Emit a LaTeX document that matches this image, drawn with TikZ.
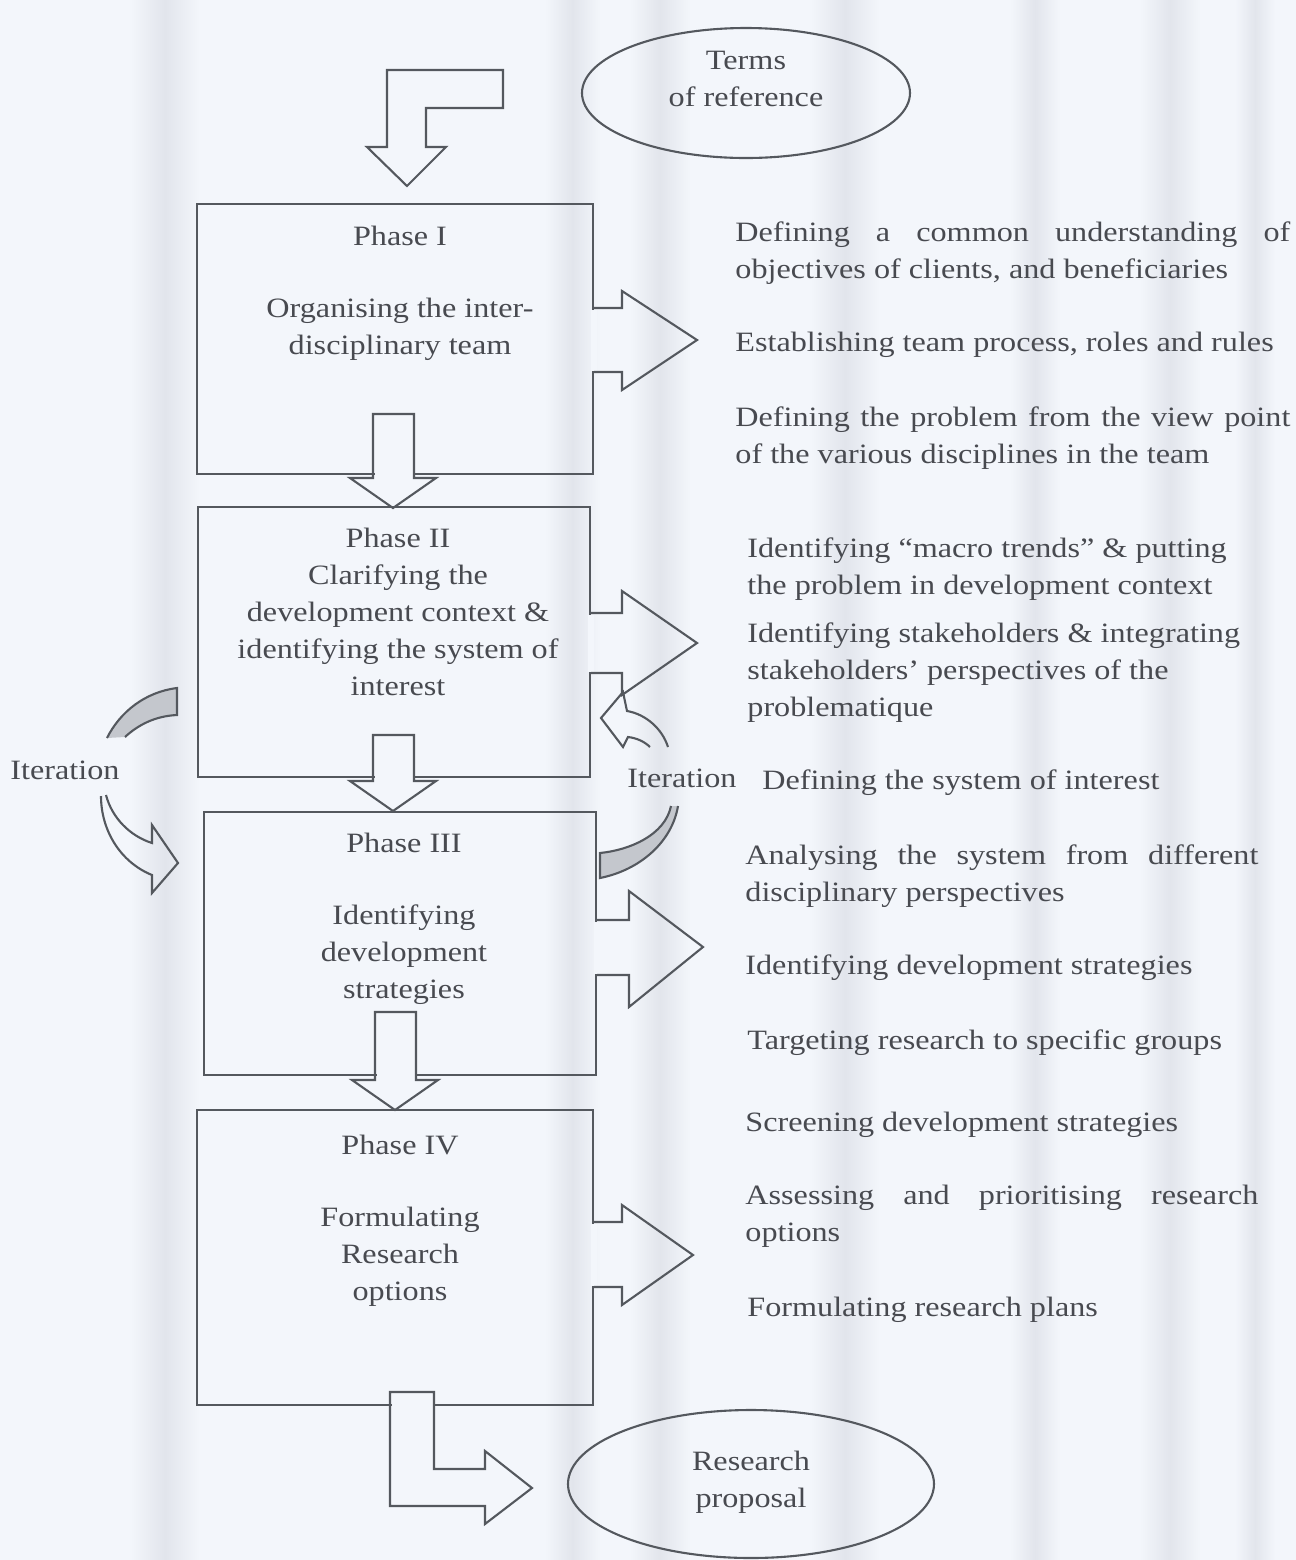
\documentclass[tikz,border=0pt]{standalone}
\usepackage{fontspec}
\setmainfont{Liberation Serif}[FakeStretch=1.15]
\usetikzlibrary{shapes.geometric}
\definecolor{bg}{RGB}{243,246,251}
\definecolor{stripe}{RGB}{226,229,236}
\definecolor{ink}{RGB}{84,88,94}
\definecolor{txt}{RGB}{72,74,80}
\definecolor{tailgray}{RGB}{196,199,205}
\begin{document}
\begin{tikzpicture}[x=0.5pt,y=-0.5pt,
  outline/.style={draw=ink,line width=1.05pt,line join=miter},
  phasebox/.style={draw=ink,line width=1.05pt,rectangle,inner sep=0pt},
  oval/.style={draw=ink,line width=1.05pt,ellipse,inner sep=0pt},
  label/.style={text=txt,font=\fontsize{14}{18.5}\selectfont,inner sep=0pt},
  erase/.style={fill=bg,draw=none}]

% page and soft vertical stripes
\fill[bg] (0,0) rectangle (1296,1560);
\useasboundingbox (0,0) rectangle (1296,1560);
\foreach \a/\b in {130/200,545/600,630/690,810/880,1010/1060,1140/1200,1235/1275}
  \shade[left color=bg,right color=bg,middle color=stripe] (\a,0) rectangle (\b,1560);

% terminals
\node[oval,minimum width=164pt,minimum height=65pt] (tor) at (746,93) {};
\node[label,align=center] (tortext) at (746,79) {Terms\\of reference};
\node[oval,minimum width=183pt,minimum height=74pt] (rp) at (751,1484) {};
\node[label,align=center] (rptext) at (751,1482) {Research\\proposal};

% phase boxes
\node[phasebox,minimum width=198pt,minimum height=135pt] (p1) at (395,339) {};
\node[phasebox,minimum width=196pt,minimum height=135pt] (p2) at (394,642) {};
\node[phasebox,minimum width=196pt,minimum height=131.5pt] (p3) at (400,943.5) {};
\node[phasebox,minimum width=198pt,minimum height=147.5pt] (p4) at (395,1257.5) {};

% phase texts
\node[label] (p1t) at (400,236) {Phase I};
\node[label,align=center] (p1d) at (400,329) {Organising the inter-\\disciplinary team};
\node[label,align=center] (p2d) at (398,612) {Phase II\\Clarifying the\\development context \&\\identifying the system of\\interest};
\node[label] (p3t) at (404,843) {Phase III};
\node[label,align=center] (p3d) at (404,955) {Identifying\\development\\strategies};
\node[label] (p4t) at (400,1145) {Phase IV};
\node[label,align=center] (p4d) at (400,1257) {Formulating\\Research\\options};

% entry arrow from the terms of reference
\draw[outline] (387,70) -- (503,70) -- (503,108) -- (426,108) -- (426,147) -- (446,147)
  -- (407,186) -- (367,147) -- (387,147) -- cycle;

% downward block arrows between phases
\fill[erase] (374.5,471) rectangle (412.5,477);
\draw[outline] (373,414) -- (414,414) -- (414,478) -- (436,478) -- (393,508) -- (350,478) -- (373,478) -- cycle;
\fill[erase] (374.5,774) rectangle (412.5,780);
\draw[outline] (373,735) -- (414,735) -- (414,781) -- (436,781) -- (393,811) -- (350,781) -- (373,781) -- cycle;
\fill[erase] (376.5,1072) rectangle (414.5,1078);
\draw[outline] (375,1012) -- (416,1012) -- (416,1080) -- (438,1080) -- (395,1110) -- (352,1080) -- (375,1080) -- cycle;

% exit arrow to the research proposal
\fill[erase] (391.5,1402) rectangle (432.5,1408);
\draw[outline] (390,1392) -- (434,1392) -- (434,1469) -- (485,1469) -- (485,1451) -- (532,1488)
  -- (485,1524) -- (485,1506) -- (390,1506) -- cycle;

% outputs of each phase
\fill[erase] (591,309.5) rectangle (597,370.5);
\draw[outline] (594,308) -- (622,308) -- (622,291) -- (697,340) -- (622,390) -- (622,372) -- (594,372);
\fill[erase] (588,614.5) rectangle (594,671.5);
\draw[outline] (591,613) -- (622,613) -- (622,591) -- (697,643) -- (622,695) -- (622,673) -- (591,673);
\fill[erase] (594,921.5) rectangle (600,973.5);
\draw[outline] (597,920) -- (629,920) -- (629,891) -- (703,947) -- (629,1007) -- (629,975) -- (597,975);
\fill[erase] (591,1223.5) rectangle (597,1285.5);
\draw[outline] (594,1222) -- (622,1222) -- (622,1205) -- (693,1255) -- (622,1305) -- (622,1287) -- (594,1287);

% iteration loop on the left
\fill[tailgray] (177,688) .. controls (145,692) and (120,712) .. (107,738) -- (125,737)
  .. controls (138,725) and (155,716) .. (177,715) -- cycle;
\draw[outline] (107,738) .. controls (120,712) and (145,692) .. (177,688) -- (177,715)
  .. controls (155,716) and (138,725) .. (125,737);
\draw[outline] (101,796) .. controls (101,830) and (120,862) .. (152,875) -- (152,893) -- (178,863)
  -- (152,825) -- (152,843) .. controls (130,836) and (112,818) .. (106,795);
\node[label,anchor=west] (itl) at (10,770) {Iteration};

% iteration loop on the right
\fill[tailgray] (678,806) .. controls (672,842) and (640,870) .. (600,878) -- (600,853)
  .. controls (630,850) and (665,835) .. (671,806) -- cycle;
\draw[outline] (678,806) .. controls (672,842) and (640,870) .. (600,878) -- (600,853)
  .. controls (630,850) and (665,835) .. (671,806);
\draw[outline] (668,747) .. controls (662,728) and (645,714) .. (627,711) -- (623,692) -- (601,718)
  -- (623,747) -- (628,737) .. controls (637,738) and (645,742) .. (650,747);
\node[label,anchor=west] (itr) at (627,778) {Iteration};

% activities of each phase
\node[label,anchor=west,align=left] (a1) at (735,253.5)
  {\makebox[277.5pt][s]{Defining a common understanding of}\\objectives of clients, and beneficiaries};
\node[label,anchor=west] (a2) at (735,345) {Establishing team process, roles and rules};
\node[label,anchor=west,align=left] (a3) at (735,438.5)
  {\makebox[277.5pt][s]{Defining the problem from the view point}\\of the various disciplines in the team};
\node[label,anchor=west,align=left] (a4) at (747,569)
  {Identifying “macro trends” \& putting\\the problem in development context};
\node[label,anchor=west,align=left] (a5) at (747,672.5)
  {Identifying stakeholders \& integrating\\stakeholders’ perspectives of the\\problematique};
\node[label,anchor=west] (a6) at (762,783) {Defining the system of interest};
\node[label,anchor=west,align=left] (a7) at (745,876.5)
  {\makebox[256.5pt][s]{Analysing the system from different}\\disciplinary perspectives};
\node[label,anchor=west] (a8) at (745,968) {Identifying development strategies};
\node[label,anchor=west] (a9) at (747,1043) {Targeting research to specific groups};
\node[label,anchor=west] (a10) at (745,1125) {Screening development strategies};
\node[label,anchor=west,align=left] (a11) at (745,1216.5)
  {\makebox[256.5pt][s]{Assessing and prioritising research}\\options};
\node[label,anchor=west] (a12) at (747,1310) {Formulating research plans};
\end{tikzpicture}
\end{document}
